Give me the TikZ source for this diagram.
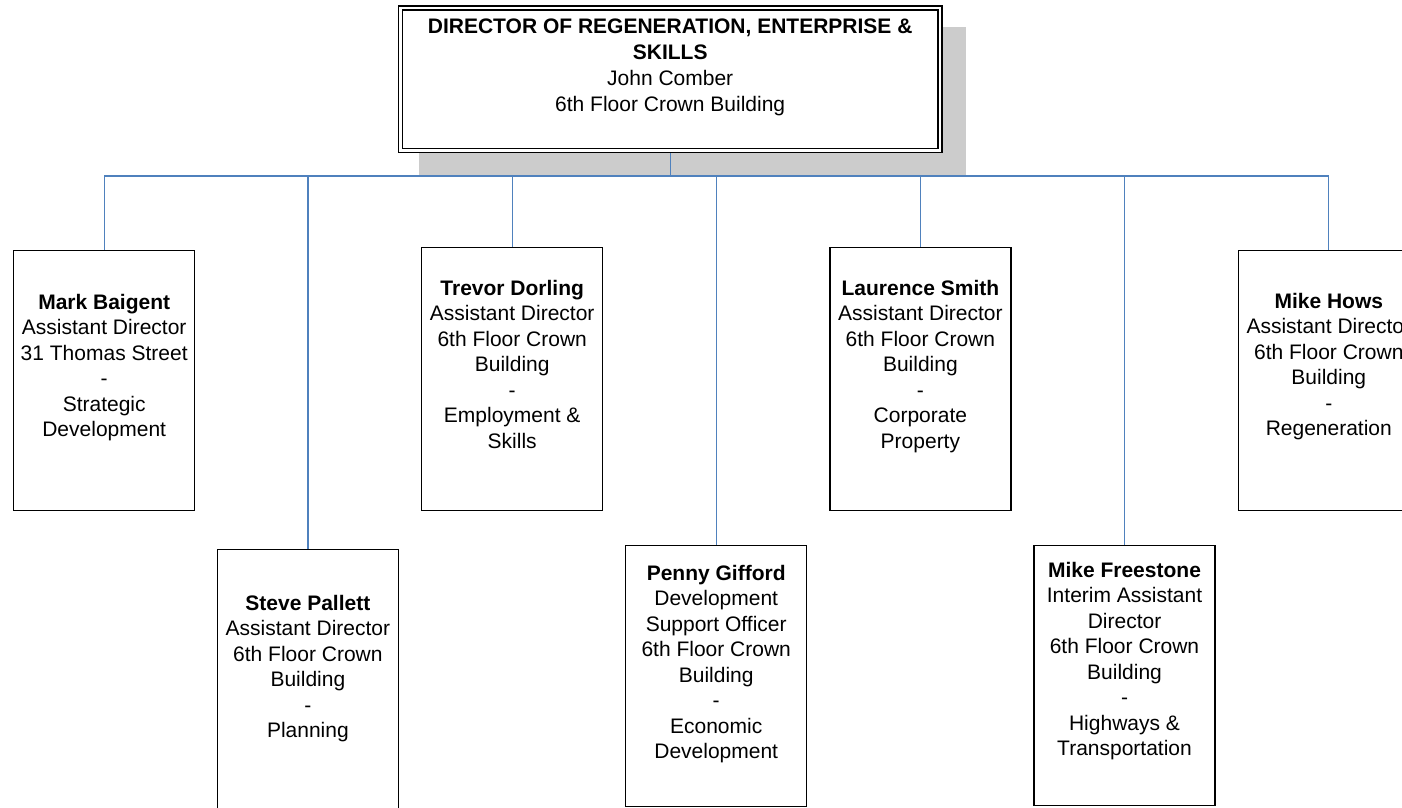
\documentclass[tikz,border=0pt]{standalone}
\usepackage{fontspec}
\setmainfont{Liberation Sans}
\definecolor{connblue}{RGB}{79,129,189}
\definecolor{shadowgray}{RGB}{204,204,204}
\tikzset{
  box/.style={draw=black, line width=1.4pt, fill=white, inner sep=0pt, minimum width=181pt, anchor=north west},
  lbl/.style={align=center, font=\fontsize{21}{25.5}\selectfont, anchor=base, inner sep=0pt},
  toplbl/.style={align=center, font=\fontsize{21}{26}\selectfont, anchor=base, inner sep=0pt},
  conn/.style={draw=connblue, line width=1.3pt},
  topbox/.style={draw=black, line width=1.4pt, double=white, double distance=2.6pt, fill=white, inner sep=0pt}
}
\begin{document}
\begin{tikzpicture}[x=1pt,y=-1pt]
\useasboundingbox (0,0) rectangle (1402,808);
\clip (0,0) rectangle (1402,808);
% shadow of the director box
\fill[shadowgray] (419,27.3) rectangle (966,175);
\coordinate (bus) at (0,176);
% boxes
\path
  (13,249.5)     node[box, minimum height=260pt] (mark) {}
  (216.7,548.5)  node[box, minimum height=300pt] (steve) {}
  (421,246.5)    node[box, minimum height=263pt] (trevor) {}
  (625,544.5)    node[box, minimum height=261pt] (penny) {}
  (829.2,246.5)  node[box, minimum height=263pt] (laurence) {}
  (1033.3,544.5) node[box, minimum height=260pt] (freestone) {}
  (1237.6,249.5) node[box, minimum height=260pt] (hows) {};
\node[topbox, minimum width=539.6pt, minimum height=142.3pt] (top) at (670.2,79.2) {};
% connectors
\foreach \c in {mark,steve,trevor,penny,laurence,freestone,hows}
  \draw[conn] (top.south) -- (top.south |- bus) -| (\c.north);
% redraw the director box over the connector start
\node[topbox, minimum width=539.6pt, minimum height=142.3pt] (topcover) at (670.2,79.2) {};
% texts (anchor base = baseline of the last line)
\node[toplbl] (toptxt) at (670.2,111) {\textbf{DIRECTOR OF REGENERATION, ENTERPRISE \&}\\\textbf{SKILLS}\\John Comber\\6th Floor Crown Building};
\node[lbl] (markt) at (mark.north |- 0,436.5) {\textbf{Mark Baigent}\\Assistant Director\\31 Thomas Street\\-\\Strategic\\Development};
\node[lbl] (stevet) at (steve.north |- 0,737.5) {\textbf{Steve Pallett}\\Assistant Director\\6th Floor Crown\\Building\\-\\Planning};
\node[lbl] (trevort) at (trevor.north |- 0,448) {\textbf{Trevor Dorling}\\Assistant Director\\6th Floor Crown\\Building\\-\\Employment \&\\Skills};
\node[lbl] (pennyt) at (penny.north |- 0,758.5) {\textbf{Penny Gifford}\\Development\\Support Officer\\6th Floor Crown\\Building\\-\\Economic\\Development};
\node[lbl] (laurencet) at (laurence.north |- 0,448) {\textbf{Laurence Smith}\\Assistant Director\\6th Floor Crown\\Building\\-\\Corporate\\Property};
\node[lbl] (freestonet) at (freestone.north |- 0,755.5) {\textbf{Mike Freestone}\\Interim Assistant\\Director\\6th Floor Crown\\Building\\-\\Highways \&\\Transportation};
\node[lbl] (howst) at (hows.north |- 0,435.5) {\textbf{Mike Hows}\\Assistant Director\\6th Floor Crown\\Building\\-\\Regeneration};
\end{tikzpicture}
\end{document}
